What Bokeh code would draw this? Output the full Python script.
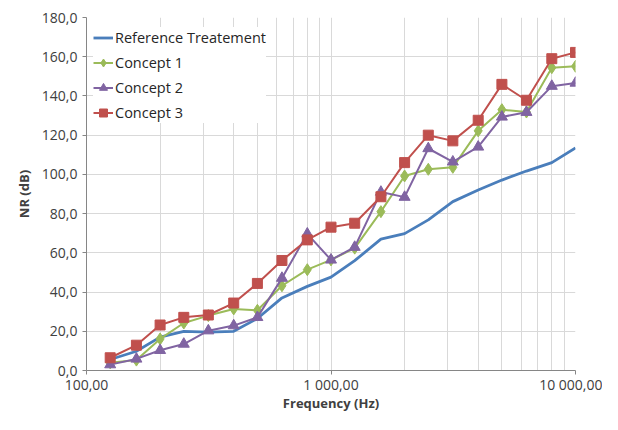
from bokeh.plotting import figure
from bokeh.models import FixedTicker, Legend, LegendItem
from bokeh.embed import file_html
from bokeh.resources import INLINE

freq = [125, 160, 200, 250, 315, 400, 500, 630, 800, 1000, 1250, 1600, 2000,
        2500, 3150, 4000, 5000, 6300, 8000, 10000]
reference = [5.6, 9.8, 17.0, 20.0, 19.6, 20.0, 26.5, 37.0, 42.9, 47.6, 56.0,
             67.0, 69.8, 76.8, 86.1, 92.0, 97.1, 101.7, 106.0, 113.5]
concept1 = [3.9, 5.3, 16.1, 24.2, 28.0, 31.4, 30.7, 43.2, 51.4, 56.4, 62.4,
            81.0, 99.2, 102.6, 103.6, 122.2, 133.0, 131.8, 154.4, 155.1]
concept2 = [3.0, 5.9, 10.3, 13.5, 20.3, 22.9, 27.1, 47.1, 69.7, 56.4, 62.9,
            91.0, 88.4, 113.2, 106.4, 114.0, 129.3, 131.7, 145.0, 146.6]
concept3 = [6.5, 12.9, 23.2, 27.1, 28.3, 34.4, 44.4, 56.1, 66.6, 73.1, 75.1,
            88.6, 106.0, 120.0, 117.1, 127.6, 145.9, 137.8, 159.0, 162.2]

series_names = ["Reference Treatement", "Concept 1", "Concept 2", "Concept 3"]
x_title = "Frequency (Hz)"
y_title = "NR (dB)"
x_major = [100, 1000, 10000]
x_minor = [200, 300, 400, 500, 600, 700, 800, 900,
           2000, 3000, 4000, 5000, 6000, 7000, 8000, 9000]
x_labels = ["100,00", "1 000,00", "10 000,00"]
y_ticks = [0, 20, 40, 60, 80, 100, 120, 140, 160, 180]
y_labels = ["0,0", "20,0", "40,0", "60,0", "80,0", "100,0", "120,0",
            "140,0", "160,0", "180,0"]

FONT = "Open Sans"
TXT = "#404040"

p = figure(width=602, height=414, x_axis_type="log",
           x_range=(100, 10000), y_range=(0, 180),
           output_backend="svg", toolbar_location=None,
           min_border_left=86, min_border_right=27,
           min_border_top=17, min_border_bottom=43)
p.outline_line_color = None
p.background_fill_color = "white"

p.xaxis.ticker = FixedTicker(ticks=x_major, minor_ticks=x_minor)
p.xaxis.major_label_overrides = {t: l for t, l in zip(x_major, x_labels)}
p.yaxis.ticker = FixedTicker(ticks=y_ticks)
p.yaxis.major_label_overrides = {t: l for t, l in zip(y_ticks, y_labels)}

for ax in (p.xaxis, p.yaxis):
    ax.axis_line_color = "#868686"
    ax.major_tick_line_color = "#868686"
    ax.major_tick_out = 4
    ax.major_tick_in = 0
    ax.minor_tick_line_color = None
    ax.major_label_text_font = FONT
    ax.major_label_text_font_size = "14px"
    ax.major_label_text_color = TXT
    ax.axis_label_text_font = FONT
    ax.axis_label_text_font_size = "13px"
    ax.axis_label_text_font_style = "bold"
    ax.axis_label_text_color = TXT

p.xaxis.axis_label = x_title
p.yaxis.axis_label = y_title
p.xaxis.major_label_standoff = 0
p.xaxis.axis_label_standoff = -3
p.yaxis.major_label_standoff = 5
p.yaxis.axis_label_standoff = 6

p.xgrid.grid_line_color = "#d9d9d9"
p.xgrid.minor_grid_line_color = "#d9d9d9"
p.ygrid.grid_line_color = "#d9d9d9"

blue, green, purple, red = "#4a7ebb", "#9bbb59", "#8064a2", "#c0504d"

r0 = p.line(freq, reference, line_color=blue, line_width=2.8)
l1 = p.line(freq, concept1, line_color=green, line_width=2)
m1 = p.scatter(freq, concept1, marker="diamond", size=12,
               fill_color=green, line_color=green)
l2 = p.line(freq, concept2, line_color=purple, line_width=2)
m2 = p.scatter(freq, concept2, marker="triangle", size=11,
               fill_color=purple, line_color=purple)
l3 = p.line(freq, concept3, line_color=red, line_width=2)
m3 = p.scatter(freq, concept3, marker="square", size=10,
               fill_color=red, line_color=red)

legend = Legend(items=[
    LegendItem(label=series_names[0], renderers=[r0]),
    LegendItem(label=series_names[1], renderers=[l1, m1]),
    LegendItem(label=series_names[2], renderers=[l2, m2]),
    LegendItem(label=series_names[3], renderers=[l3, m3]),
], location=(7, 247))
legend.border_line_color = None
legend.background_fill_color = "white"
legend.background_fill_alpha = 1.0
legend.padding = 4
legend.margin = 0
legend.spacing = 4
legend.label_height = 21
legend.glyph_height = 21
legend.glyph_width = 20
legend.label_standoff = 2
legend.label_text_font = FONT
legend.label_text_font_size = "14.5px"
legend.label_text_color = "#262626"
p.add_layout(legend, "center")

open("out.html", "w").write(file_html(p, INLINE))
